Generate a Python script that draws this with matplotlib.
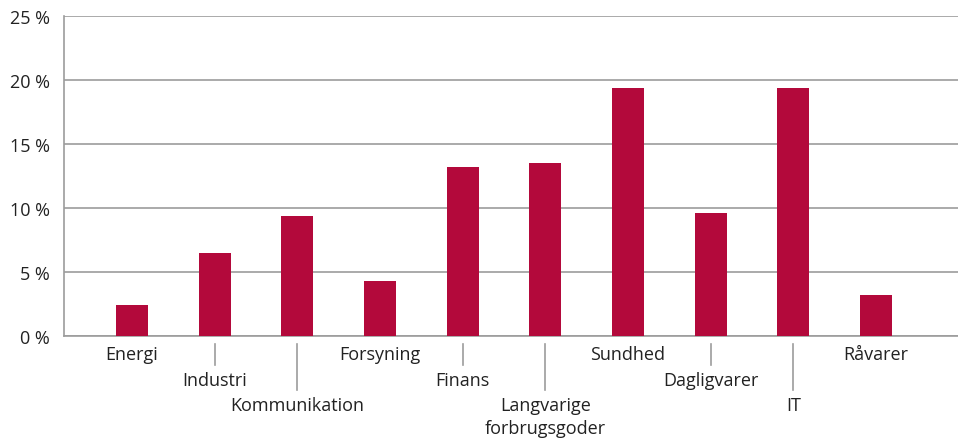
import numpy as np
import matplotlib
matplotlib.use("Agg")
import matplotlib.pyplot as plt
from matplotlib.transforms import blended_transform_factory

# data
sectors = ["Energi", "Industri", "Kommunikation", "Forsyning", "Finans",
           "Langvarige\nforbrugsgoder", "Sundhed", "Dagligvarer", "IT", "Råvarer"]
weights = [2.4, 6.5, 9.4, 4.3, 13.2, 13.5, 19.4, 9.6, 19.4, 3.2]
label_rows = [0, 1, 2, 0, 1, 2, 0, 1, 2, 0]
yticks = [0, 5, 10, 15, 20, 25]
ytick_labels = ["0 %", "5 %", "10 %", "15 %", "20 %", "25 %"]

bar_color = "#B3093B"
grid_color = "#9c9c9c"
text_color = "#222222"

plt.rcParams["font.family"] = ["Open Sans", "DejaVu Sans"]

W, H = 958, 439
fig = plt.figure(figsize=(W / 100, H / 100), dpi=100)
ax_l, ax_r, ax_top, ax_bot = 64, 958, 17, 337
ax = fig.add_axes([ax_l / W, 1 - ax_bot / H, (ax_r - ax_l) / W, (ax_bot - ax_top) / H])

x = np.arange(len(sectors))
ax.bar(x, weights, width=0.387, color=bar_color, zorder=3)

ax.set_ylim(0, 25)
ax.set_xlim(-0.82, 9.99)
ax.set_yticks(yticks)
ax.set_yticklabels(ytick_labels, fontsize=13, color=text_color)
ax.tick_params(axis="y", length=0, pad=10)
ax.set_xticks([])
ax.grid(axis="y", color=grid_color, linewidth=1.2, zorder=0)
for s in ["top", "right"]:
    ax.spines[s].set_visible(False)
for s in ["left", "bottom"]:
    ax.spines[s].set_color(grid_color)
    ax.spines[s].set_linewidth(1.2)

# staggered category labels, three rows
ax_h = ax_bot - ax_top
row_offsets = [18, 44, 69]
trans = blended_transform_factory(ax.transData, ax.transAxes)
for i, name in enumerate(sectors):
    row = label_rows[i]
    off = row_offsets[row]
    if "\n" in name:
        off += 11.5
    ax.text(i, -off / ax_h, name, transform=trans, ha="center", va="center",
            fontsize=13, color=text_color, linespacing=1.3)
    if row > 0:
        y0 = -8 / ax_h
        y1 = -(29 if row == 1 else 54) / ax_h
        ax.plot([i, i], [y0, y1], transform=trans, color=grid_color,
                linewidth=1.2, clip_on=False)

fig.savefig("out.png", dpi=100)
